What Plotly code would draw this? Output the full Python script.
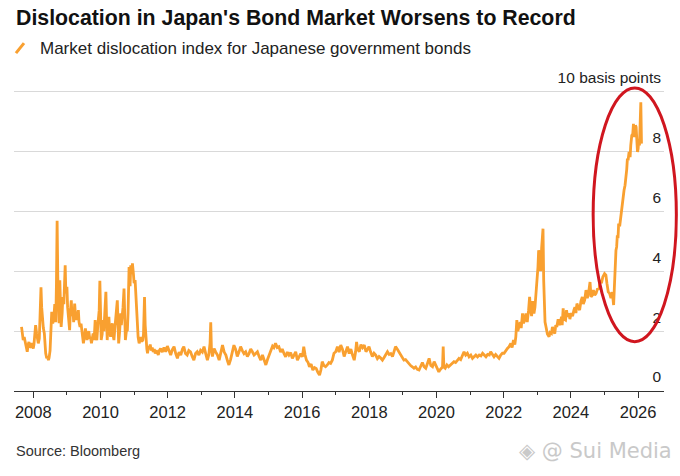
import pandas as pd
import plotly.graph_objects as go

# decimal year, basis points
years = [
    2007.65, 2007.67, 2007.70, 2007.73, 2007.77, 2007.80, 2007.82, 2007.85, 2007.87, 2007.90,
    2007.92, 2007.95, 2007.97, 2008.00, 2008.02, 2008.05, 2008.07, 2008.10, 2008.12, 2008.15,
    2008.18, 2008.21, 2008.23, 2008.25, 2008.27, 2008.30, 2008.33, 2008.35, 2008.37, 2008.40,
    2008.43, 2008.45, 2008.47, 2008.50, 2008.53, 2008.55, 2008.58, 2008.61, 2008.64, 2008.67,
    2008.69, 2008.71, 2008.73, 2008.75, 2008.77, 2008.79, 2008.81, 2008.83, 2008.86, 2008.88,
    2008.91, 2008.93, 2008.95, 2008.97, 2009.00, 2009.02, 2009.05, 2009.08, 2009.10, 2009.13,
    2009.15, 2009.18, 2009.20, 2009.23, 2009.25, 2009.28, 2009.31, 2009.34, 2009.36, 2009.39,
    2009.42, 2009.44, 2009.47, 2009.49, 2009.52, 2009.55, 2009.57, 2009.60, 2009.62, 2009.65,
    2009.68, 2009.70, 2009.73, 2009.76, 2009.78, 2009.81, 2009.84, 2009.86, 2009.89, 2009.92,
    2009.94, 2009.96, 2009.98, 2010.00, 2010.02, 2010.05, 2010.07, 2010.10, 2010.12, 2010.14,
    2010.16, 2010.18, 2010.20, 2010.22, 2010.25, 2010.27, 2010.30, 2010.32, 2010.35, 2010.37,
    2010.40, 2010.42, 2010.45, 2010.47, 2010.50, 2010.52, 2010.54, 2010.57, 2010.60, 2010.62,
    2010.65, 2010.67, 2010.70, 2010.72, 2010.74, 2010.77, 2010.80, 2010.82, 2010.84, 2010.85,
    2010.88, 2010.90, 2010.93, 2010.95, 2010.98, 2011.00, 2011.03, 2011.06, 2011.08, 2011.10,
    2011.12, 2011.15, 2011.18, 2011.20, 2011.23, 2011.26, 2011.28, 2011.31, 2011.33, 2011.35,
    2011.38, 2011.40, 2011.43, 2011.46, 2011.48, 2011.51, 2011.54, 2011.57, 2011.60, 2011.63,
    2011.66, 2011.69, 2011.72, 2011.75, 2011.79, 2011.84, 2011.89, 2011.94, 2011.99, 2012.04,
    2012.09, 2012.14, 2012.19, 2012.24, 2012.29, 2012.34, 2012.39, 2012.44, 2012.48, 2012.53,
    2012.58, 2012.63, 2012.68, 2012.73, 2012.78, 2012.83, 2012.88, 2012.93, 2012.98, 2013.03,
    2013.08, 2013.13, 2013.18, 2013.22, 2013.26, 2013.28, 2013.30, 2013.33, 2013.38, 2013.43,
    2013.48, 2013.53, 2013.58, 2013.63, 2013.68, 2013.73, 2013.78, 2013.82, 2013.87, 2013.92,
    2013.97, 2014.02, 2014.07, 2014.12, 2014.17, 2014.22, 2014.27, 2014.32, 2014.37, 2014.42,
    2014.47, 2014.52, 2014.57, 2014.62, 2014.67, 2014.72, 2014.77, 2014.82, 2014.87, 2014.92,
    2014.97, 2015.02, 2015.07, 2015.12, 2015.16, 2015.21, 2015.26, 2015.31, 2015.36, 2015.41,
    2015.46, 2015.51, 2015.56, 2015.61, 2015.66, 2015.71, 2015.76, 2015.81, 2015.86, 2015.91,
    2015.96, 2016.01, 2016.05, 2016.09, 2016.13, 2016.18, 2016.22, 2016.27, 2016.32, 2016.37,
    2016.42, 2016.47, 2016.52, 2016.56, 2016.60, 2016.65, 2016.70, 2016.75, 2016.80, 2016.85,
    2016.90, 2016.95, 2017.00, 2017.05, 2017.10, 2017.15, 2017.20, 2017.25, 2017.30, 2017.35,
    2017.40, 2017.45, 2017.50, 2017.55, 2017.59, 2017.62, 2017.65, 2017.70, 2017.75, 2017.80,
    2017.85, 2017.90, 2017.95, 2017.99, 2018.04, 2018.09, 2018.14, 2018.19, 2018.24, 2018.29,
    2018.34, 2018.39, 2018.44, 2018.49, 2018.54, 2018.59, 2018.64, 2018.69, 2018.74, 2018.78,
    2018.83, 2018.88, 2018.93, 2018.98, 2019.03, 2019.08, 2019.13, 2019.18, 2019.23, 2019.28,
    2019.33, 2019.38, 2019.43, 2019.48, 2019.53, 2019.58, 2019.63, 2019.68, 2019.73, 2019.78,
    2019.83, 2019.88, 2019.93, 2019.98, 2020.03, 2020.07, 2020.10, 2020.14, 2020.18, 2020.20,
    2020.22, 2020.26, 2020.31, 2020.36, 2020.41, 2020.46, 2020.52, 2020.57, 2020.62, 2020.67,
    2020.72, 2020.77, 2020.82, 2020.87, 2020.92, 2020.97, 2021.02, 2021.07, 2021.12, 2021.17,
    2021.22, 2021.27, 2021.32, 2021.37, 2021.42, 2021.47, 2021.52, 2021.57, 2021.61, 2021.66,
    2021.71, 2021.76, 2021.81, 2021.86, 2021.91, 2021.96, 2022.01, 2022.06, 2022.11, 2022.16,
    2022.21, 2022.25, 2022.29, 2022.33, 2022.36, 2022.39, 2022.42, 2022.45, 2022.49, 2022.52,
    2022.56, 2022.59, 2022.63, 2022.66, 2022.70, 2022.74, 2022.77, 2022.80, 2022.83, 2022.86,
    2022.90, 2022.93, 2022.96, 2022.99, 2023.02, 2023.04, 2023.07, 2023.10, 2023.13, 2023.17,
    2023.19, 2023.21, 2023.23, 2023.26, 2023.30, 2023.35, 2023.38, 2023.42, 2023.45, 2023.48,
    2023.52, 2023.55, 2023.58, 2023.62, 2023.65, 2023.69, 2023.72, 2023.74, 2023.77, 2023.80,
    2023.84, 2023.87, 2023.90, 2023.94, 2023.97, 2024.01, 2024.05, 2024.09, 2024.12, 2024.15,
    2024.18, 2024.22, 2024.26, 2024.30, 2024.34, 2024.37, 2024.41, 2024.45, 2024.49, 2024.53,
    2024.57, 2024.60, 2024.64, 2024.67, 2024.71, 2024.75, 2024.79, 2024.84, 2024.87, 2024.91,
    2024.95, 2025.00, 2025.04, 2025.07, 2025.11, 2025.15, 2025.19, 2025.23, 2025.27, 2025.29,
    2025.31, 2025.34, 2025.36, 2025.38, 2025.40, 2025.42, 2025.45, 2025.48, 2025.50, 2025.53,
    2025.56, 2025.58, 2025.61, 2025.63, 2025.66, 2025.68, 2025.70, 2025.73, 2025.76, 2025.78,
    2025.81, 2025.84, 2025.86, 2025.89, 2025.92, 2025.94, 2025.96, 2025.98, 2026.00, 2026.02,
    2026.04, 2026.06, 2026.08, 2026.10,
]

index_bp = [
    2.14, 2.00, 1.70, 1.80, 1.59, 1.45, 1.31, 1.55, 1.64, 1.45,
    1.48, 1.60, 1.50, 1.42, 1.55, 1.90, 2.20, 1.92, 1.70, 1.59,
    1.75, 2.60, 3.46, 2.80, 2.37, 2.10, 1.92, 1.50, 1.26, 1.09,
    1.15, 1.03, 1.10, 1.35, 1.90, 2.64, 2.26, 2.40, 2.90, 2.30,
    3.60, 5.68, 3.81, 2.40, 2.26, 3.70, 3.20, 2.14, 2.60, 3.14,
    2.90, 3.70, 4.20, 3.26, 3.48, 2.80, 2.30, 2.03, 2.60, 3.03,
    2.50, 2.70, 2.30, 2.92, 2.60, 2.37, 2.50, 2.70, 2.30, 2.14,
    2.25, 2.10, 1.80, 1.59, 1.80, 2.09, 1.90, 1.70, 1.85, 2.00,
    1.75, 1.80, 1.59, 1.80, 1.92, 1.70, 2.37, 1.80, 1.70, 2.20,
    2.53, 2.70, 3.68, 2.60, 1.70, 1.90, 2.37, 2.00, 2.40, 3.14,
    3.31, 2.40, 1.70, 2.20, 2.48, 2.00, 1.81, 2.10, 2.26, 1.90,
    1.70, 2.00, 2.37, 2.60, 3.03, 2.30, 1.59, 2.00, 2.59, 2.20,
    2.53, 2.80, 3.42, 2.30, 1.70, 2.00, 2.03, 2.60, 3.80, 4.14,
    3.50, 4.20, 3.90, 4.26, 3.90, 3.60, 3.70, 3.00, 2.50, 2.14,
    1.80, 1.59, 1.75, 1.80, 1.65, 1.70, 1.90, 3.14, 2.20, 1.70,
    1.40, 1.26, 1.50, 1.40, 1.55, 1.35, 1.45, 1.30, 1.40, 1.25,
    1.35, 1.30, 1.20, 1.35, 1.42, 1.30, 1.45, 1.31, 1.50, 1.35,
    1.20, 1.38, 1.48, 1.25, 1.09, 1.30, 1.20, 1.40, 1.48, 1.25,
    1.20, 1.35, 1.31, 1.15, 1.03, 1.25, 1.31, 1.20, 1.36, 1.30,
    1.48, 1.25, 1.03, 1.20, 1.60, 2.29, 1.40, 1.15, 1.42, 1.30,
    1.20, 1.03, 1.25, 1.53, 1.30, 1.20, 1.00, 0.87, 1.05, 1.25,
    1.53, 1.40, 1.15, 1.30, 1.48, 1.35, 1.25, 1.31, 1.15, 1.25,
    1.40, 1.31, 1.20, 1.25, 1.31, 1.15, 1.03, 1.20, 1.00, 0.87,
    1.05, 1.20, 1.36, 1.50, 1.45, 1.59, 1.45, 1.48, 1.30, 1.40,
    1.25, 1.14, 1.30, 1.20, 1.28, 1.09, 1.20, 1.31, 1.03, 1.15,
    1.25, 1.14, 1.48, 1.20, 1.03, 0.95, 0.81, 0.90, 0.70, 0.78,
    0.75, 0.62, 0.53, 0.70, 0.98, 0.85, 0.81, 0.87, 0.95, 0.92,
    1.03, 1.26, 1.31, 1.48, 1.30, 1.53, 1.40, 1.15, 1.35, 1.48,
    1.25, 1.40, 1.20, 1.03, 1.30, 1.64, 1.40, 1.31, 1.55, 1.45,
    1.53, 1.31, 1.40, 1.48, 1.30, 1.15, 1.26, 1.20, 1.08, 1.15,
    1.10, 1.03, 1.12, 1.20, 1.31, 1.22, 1.25, 1.15, 1.35, 1.48,
    1.40, 1.31, 1.20, 1.15, 1.03, 1.05, 0.98, 0.92, 0.85, 0.81,
    0.76, 0.80, 0.72, 0.70, 0.85, 0.95, 0.81, 0.76, 0.92, 1.09,
    0.85, 0.81, 0.98, 0.85, 0.72, 0.64, 0.70, 0.76, 0.80, 1.48,
    0.80, 0.76, 0.87, 0.81, 0.87, 0.92, 0.98, 0.95, 1.03, 1.09,
    1.05, 1.20, 1.31, 1.20, 1.26, 1.14, 1.20, 1.09, 1.15, 1.20,
    1.14, 1.20, 1.17, 1.26, 1.20, 1.14, 1.22, 1.20, 1.31, 1.20,
    1.14, 1.22, 1.17, 1.09, 1.20, 1.26, 1.26, 1.35, 1.42, 1.48,
    1.59, 1.45, 1.70, 1.55, 1.81, 2.37, 2.00, 2.14, 2.30, 2.10,
    2.59, 2.26, 2.40, 2.59, 2.30, 2.70, 3.14, 2.70, 2.50, 3.00,
    2.59, 2.80, 3.20, 3.60, 4.14, 4.70, 4.30, 4.00, 4.80, 5.42,
    3.70, 2.59, 2.30, 2.14, 1.90, 1.81, 1.95, 1.92, 2.14, 2.00,
    1.92, 2.20, 2.14, 2.40, 2.20, 2.30, 2.48, 2.20, 2.76, 2.40,
    2.37, 2.70, 2.48, 2.60, 2.40, 2.60, 2.50, 2.70, 2.80, 2.60,
    2.92, 2.80, 2.70, 3.00, 3.14, 2.90, 3.03, 3.37, 3.10, 3.30,
    3.64, 3.14, 3.20, 3.37, 3.20, 3.26, 3.40, 3.42, 3.70, 3.60,
    3.81, 3.92, 3.87, 3.60, 3.31, 3.26, 3.10, 3.30, 2.87, 3.40,
    4.00, 4.70, 4.81, 5.20, 5.10, 5.59, 5.50, 5.80, 5.98, 6.37,
    6.64, 6.70, 6.87, 7.03, 7.40, 7.76, 7.70, 7.98, 7.81, 8.20,
    8.53, 8.59, 8.92, 8.48, 8.87, 8.81, 8.30, 7.98, 8.09, 8.40,
    8.20, 8.87, 9.64, 8.26,
]

y_ticks = [0, 2, 4, 6, 8, 10]
y_tick_text = ['0', '2', '4', '6', '8', '10 basis points']


def to_date(y):
    yr = int(y)
    return pd.Timestamp(yr, 1, 1) + pd.Timedelta(days=(y - yr) * 365.25)


dates = [to_date(y) for y in years]

fnt = 'Arial, Liberation Sans, sans-serif'
orange = '#F9A030'

fig = go.Figure()
fig.add_trace(go.Scatter(x=dates, y=index_bp, mode='lines',
                         line=dict(color=orange, width=2.8), hoverinfo='skip'))

fig.update_layout(
    width=680, height=476,
    margin=dict(l=14, r=16, t=90, b=84.5),
    paper_bgcolor='white', plot_bgcolor='white',
    showlegend=False,
    font=dict(family=fnt, color='#222'),
    xaxis=dict(
        type='date',
        range=[to_date(2007.426), to_date(2026.77)],
        tick0='2008-01-01', dtick='M24', tickformat='%Y',
        ticks='outside', ticklen=6, tickwidth=1, tickcolor='#333',
        showline=True, linecolor='#333', linewidth=1,
        showgrid=False, zeroline=False,
        minor=dict(dtick='M12', ticks='outside', ticklen=3, tickcolor='#333', showgrid=False),
        tickfont=dict(size=16.5, color='#222'),
    ),
    yaxis=dict(
        range=[0, 10.05], side='right',
        tickvals=y_ticks, ticktext=y_tick_text,
        ticklabelposition='inside', ticklabelshift=-14, ticklabelstandoff=0,
        ticklabeloverflow='allow',
        ticks='', showgrid=True, gridcolor='#d9d9d9', gridwidth=1,
        zeroline=False, showline=False,
        tickfont=dict(size=15.5, color='#222'),
    ),
)

# title, subtitle, source
fig.add_annotation(text="<b>Dislocation in Japan's Bond Market Worsens to Record</b>",
                   xref='paper', yref='paper', x=0, y=1.239, xanchor='left', yanchor='middle',
                   showarrow=False, font=dict(size=21.3, color='#111', family=fnt))
fig.add_annotation(text='Market dislocation index for Japanese government bonds',
                   xref='paper', yref='paper', x=0.0369, y=1.1393, xanchor='left', yanchor='middle',
                   showarrow=False, font=dict(size=17, color='#222', family=fnt))
fig.add_shape(type='line', xref='paper', yref='paper', x0=0.003, y0=1.1227, x1=0.0154, y1=1.1559,
              line=dict(color=orange, width=3))
fig.add_annotation(text='Source: Bloomberg',
                   xref='paper', yref='paper', x=0, y=-0.2007, xanchor='left', yanchor='middle',
                   showarrow=False, font=dict(size=14.5, color='#333', family=fnt))
fig.add_annotation(text='◈ @ Sui Media',
                   xref='paper', yref='paper', x=1.0154, y=-0.2007, xanchor='right', yanchor='middle',
                   showarrow=False, font=dict(size=21, color='#c9c9c9', family='DejaVu Sans, sans-serif'))

# red ring around the recent surge
fig.add_shape(type='circle', xref='paper', yref='paper', x0=0.891, x1=1.019, y0=0.164, y1=1.007,
              line=dict(color='#D0161F', width=3))

# page body has a default 8px margin; drop it so the figure sits at the window corner
fig.write_html('out.html', config={'displayModeBar': False},
               post_script="document.body.style.margin='0';")
